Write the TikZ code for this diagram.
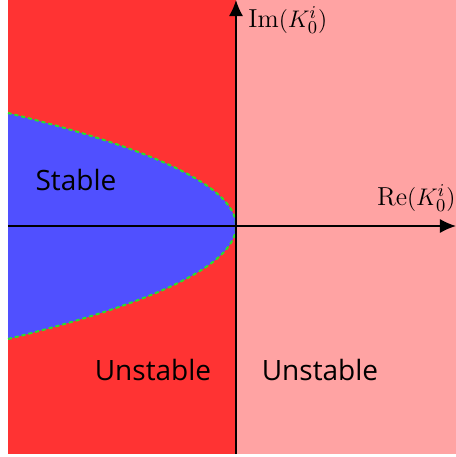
\documentclass[tikz,border=0pt]{standalone}
\usepackage{fontspec}
\setsansfont{Open Sans}
\usetikzlibrary{arrows.meta,positioning}

\definecolor{unstabledark}{RGB}{255,51,51}
\definecolor{unstablelight}{RGB}{255,163,163}
\definecolor{stableblue}{RGB}{80,80,255}
\definecolor{boundgreen}{RGB}{40,225,40}

\begin{document}
\begin{tikzpicture}[
    x=0.5pt, y=0.5pt,
    region/.style={draw=none},
    axis/.style={line width=0.75pt, -{Latex[length=8pt,width=7pt]}},
    boundary/.style={draw=boundgreen, line width=1pt, dash pattern=on 2pt off 1.5pt},
    regionlabel/.style={font=\sffamily\fontsize{14}{16}\selectfont},
    axislabel/.style={font=\fontsize{13}{15}\selectfont, inner sep=0pt}
  ]

  \useasboundingbox (-236,-231) rectangle (220,226);

  % Regions
  \fill[unstabledark] (-228,-228) rectangle (0,226);
  \fill[unstablelight] (0,-228) rectangle (220,226);

  % Stability boundary
  \fill[stableblue] plot[domain=-113:113, samples=80, smooth] ({-0.01786*\x*\x}, \x);
  \draw[boundary] plot[domain=-113:113, samples=80, smooth] ({-0.01786*\x*\x}, \x);

  % Axes
  \coordinate (xstart) at (-228,0);
  \coordinate (xend) at (220,0);
  \coordinate (ystart) at (0,-228);
  \coordinate (yend) at (0,226);
  \draw[axis] (xstart) -- (xend);
  \draw[axis] (ystart) -- (yend);

  % Labels
  \node[axislabel, anchor=west] (imlabel) at (12,206) {$\mathrm{Im}(K_0^i)$};
  \node[axislabel, anchor=east] (relabel) at (220,28) {$\mathrm{Re}(K_0^i)$};
  \node[regionlabel] (stable) at (-160,46) {Stable};
  \node[regionlabel] (unstableleft) at (-83,-144) {Unstable};
  \node[regionlabel] (unstableright) at (84,-144) {Unstable};

\end{tikzpicture}
\end{document}
